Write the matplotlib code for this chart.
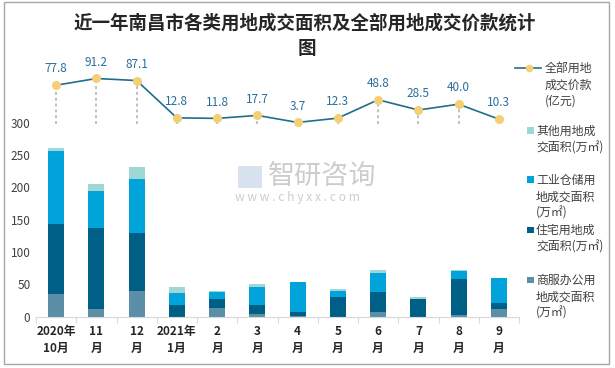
import matplotlib
matplotlib.use("Agg")
import matplotlib.pyplot as plt
import numpy as np
from matplotlib.patches import Rectangle
from matplotlib.lines import Line2D

plt.rcParams['font.family'] = ['Noto Sans CJK SC', 'DejaVu Sans']

categories = ["2020年\n10月", "11\n月", "12\n月", "2021年\n1月", "2\n月", "3\n月",
              "4\n月", "5\n月", "6\n月", "7\n月", "8\n月", "9\n月"]
commercial = [35.0, 11.9, 39.7, 0.0, 13.4, 4.6, 1.5, 0.0, 7.2, 0.0, 2.6, 11.9]
residential = [108.3, 125.2, 89.7, 18.0, 13.9, 13.4, 5.7, 30.4, 30.9, 27.3, 55.6, 9.2]
industrial = [113.0, 57.2, 83.5, 18.6, 10.8, 27.9, 46.4, 9.3, 29.4, 0.0, 12.4, 38.7]
other = [4.6, 10.9, 18.5, 9.3, 1.6, 4.6, 0.0, 3.1, 4.7, 3.1, 1.6, 0.0]
price = [77.8, 91.2, 87.1, 12.8, 11.8, 17.7, 3.7, 12.3, 48.8, 28.5, 40.0, 10.3]

labels = ["全部用地\n成交价款\n(亿元)", "其他用地成\n交面积(万㎡)", "工业仓储用\n地成交面积\n(万㎡)",
          "住宅用地成\n交面积(万㎡)", "商服办公用\n地成交面积\n(万㎡)"]
c_comm, c_res, c_ind, c_oth = "#5B8FA8", "#005F87", "#00A3DA", "#A0D6D3"
c_line, c_marker, c_lbl = "#1F6E8C", "#F5CF75", "#2A6E9C"

W, H = 615, 368
fig = plt.figure(figsize=(W / 100, H / 100), dpi=100)

def fx(px):
    return px / W

def fy(py):
    return 1 - py / H

ax = fig.add_axes([fx(36), fy(316.7), fx(519) - fx(36), fy(60) - fy(316.7)])
x = np.arange(len(categories))
bw = 0.4
b0 = np.zeros(len(x))
ax.bar(x, commercial, bw, bottom=b0, color=c_comm, zorder=2)
b1 = b0 + np.array(commercial)
ax.bar(x, residential, bw, bottom=b1, color=c_res, zorder=2)
b2 = b1 + np.array(residential)
ax.bar(x, industrial, bw, bottom=b2, color=c_ind, zorder=2)
b3 = b2 + np.array(industrial)
ax.bar(x, other, bw, bottom=b3, color=c_oth, zorder=2)

ax.set_xlim(-0.5, len(x) - 0.5)
ax.set_ylim(0, 397)
ax.set_yticks([0, 50, 100, 150, 200, 250, 300])
ax.tick_params(axis='y', length=0, labelsize=8.5, labelcolor="#404040", pad=4)
for s in ['left', 'right', 'top']:
    ax.spines[s].set_visible(False)
ax.spines['bottom'].set_color("#D9D9D9")
ax.set_xticks(np.arange(-0.5, len(x), 1.0))
ax.set_xticklabels([])
ax.tick_params(axis='x', which='major', length=4, color="#D9D9D9")
ax.set_xticks(x, minor=True)
ax.set_xticklabels(categories, minor=True, fontsize=8.5, fontweight='bold', color="#262626",
                   linespacing=1.4)
ax.tick_params(axis='x', which='minor', length=0, pad=6)

ax2 = ax.twinx()
ax2.set_ylim(-383, 128)
ax2.axis('off')
ax2.vlines(x, 0, price, colors="#BFBFBF", linestyles=(0, (1.5, 1.5)), linewidth=1.4, zorder=1)
ax2.plot(x, price, color=c_line, linewidth=1.2, marker='o', markersize=5.5,
         markerfacecolor=c_marker, markeredgecolor=c_marker, zorder=3)
for xi, p in zip(x, price):
    ax2.annotate(f"{p:.1f}", (xi, p), xytext=(0, 7), textcoords='offset points',
                 ha='center', va='bottom', fontsize=8.5, color=c_lbl)

fig.text(fx(305), fy(23), "近一年南昌市各类用地成交面积及全部用地成交价款统计",
         ha='center', va='center', fontsize=13.3, fontweight='bold', color="#262626")
fig.text(fx(307), fy(49), "图",
         ha='center', va='center', fontsize=13.3, fontweight='bold', color="#262626")

# watermark
fig.text(fx(268), fy(176), "智研咨询", ha='left', va='center', fontsize=19.5, color="#C4C4C4", alpha=0.85)
fig.text(fx(235), fy(197), "w w w . c h y x x . c o m", ha='left', va='center', fontsize=8.7,
         color="#C4C4C4", alpha=0.85)
fig.add_artist(Rectangle((fx(238), fy(188)), fx(24) - fx(0), fy(166) - fy(188), transform=fig.transFigure,
                         facecolor="#C9D8EA", edgecolor='none', alpha=0.7))

# legend (Excel-like: handle aligned with first text line)
fs = 8.6
lc = "#404040"
fig.add_artist(Line2D([fx(515), fx(541)], [fy(68.3), fy(68.3)], transform=fig.transFigure,
                      color=c_line, lw=1.2))
fig.add_artist(Line2D([fx(529)], [fy(68.3)], transform=fig.transFigure, marker='o', markersize=4.5,
                      markerfacecolor=c_marker, markeredgecolor=c_marker, linestyle='none'))
for j, line in enumerate(labels[0].split("\n")):
    fig.text(fx(545), fy(68.3 + 16.4 * j), line, ha='left', va='center', fontsize=fs, color=lc)

sq = [(c_oth, labels[1], 131), (c_ind, labels[2], 180), (c_res, labels[3], 230), (c_comm, labels[4], 280)]
for col, lab, yc in sq:
    fig.add_artist(Rectangle((fx(527), fy(yc + 3)), fx(6.5), fy(0) - fy(6.5), transform=fig.transFigure,
                             facecolor=col, edgecolor='none'))
    for j, line in enumerate(lab.split("\n")):
        fig.text(fx(536), fy(yc + 16.7 * j), line, ha='left', va='center', fontsize=fs, color=lc)

fig.add_artist(Rectangle((fx(4), fy(364)), fx(609) - fx(4), fy(2) - fy(364), transform=fig.transFigure,
                         fill=False, edgecolor="#A6A6A6", linewidth=1))

fig.savefig("out.png", dpi=100)
